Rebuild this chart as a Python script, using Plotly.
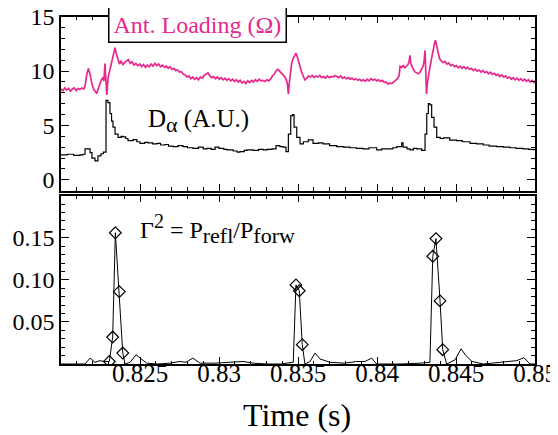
import plotly.graph_objects as go
from plotly.subplots import make_subplots

# antenna loading (ohm)
ant_time = [
    0.82000, 0.82012, 0.82024, 0.82036, 0.82048, 0.82060, 0.82072, 0.82084, 0.82096, 0.82108,
    0.82120, 0.82132, 0.82144, 0.82152, 0.82162, 0.82173, 0.82184, 0.82196, 0.82208, 0.82218,
    0.82226, 0.82236, 0.82246, 0.82256, 0.82264, 0.82272, 0.82278, 0.82284, 0.82290, 0.82298,
    0.82306, 0.82316, 0.82326, 0.82335, 0.82342, 0.82350, 0.82360, 0.82370, 0.82380, 0.82392,
    0.82404, 0.82416, 0.82426, 0.82438, 0.82450, 0.82462, 0.82474, 0.82486, 0.82498, 0.82510,
    0.82522, 0.82534, 0.82546, 0.82558, 0.82570, 0.82582, 0.82594, 0.82606, 0.82618, 0.82630,
    0.82642, 0.82654, 0.82666, 0.82678, 0.82690, 0.82702, 0.82714, 0.82726, 0.82738, 0.82750,
    0.82762, 0.82774, 0.82786, 0.82798, 0.82810, 0.82822, 0.82834, 0.82846, 0.82858, 0.82870,
    0.82882, 0.82894, 0.82906, 0.82918, 0.82930, 0.82942, 0.82954, 0.82966, 0.82978, 0.82990,
    0.83002, 0.83014, 0.83026, 0.83038, 0.83050, 0.83062, 0.83074, 0.83086, 0.83098, 0.83110,
    0.83122, 0.83134, 0.83146, 0.83158, 0.83170, 0.83182, 0.83194, 0.83206, 0.83218, 0.83230,
    0.83242, 0.83254, 0.83266, 0.83278, 0.83290, 0.83302, 0.83314, 0.83326, 0.83338, 0.83350,
    0.83362, 0.83373, 0.83384, 0.83396, 0.83408, 0.83418, 0.83428, 0.83434, 0.83439, 0.83445,
    0.83452, 0.83460, 0.83468, 0.83476, 0.83487, 0.83496, 0.83505, 0.83514, 0.83523, 0.83534,
    0.83544, 0.83556, 0.83566, 0.83578, 0.83590, 0.83602, 0.83614, 0.83626, 0.83638, 0.83650,
    0.83662, 0.83674, 0.83686, 0.83698, 0.83710, 0.83722, 0.83734, 0.83746, 0.83758, 0.83770,
    0.83782, 0.83794, 0.83806, 0.83818, 0.83830, 0.83842, 0.83854, 0.83866, 0.83878, 0.83890,
    0.83902, 0.83914, 0.83926, 0.83938, 0.83950, 0.83962, 0.83974, 0.83986, 0.83998, 0.84010,
    0.84022, 0.84034, 0.84046, 0.84058, 0.84070, 0.84082, 0.84094, 0.84106, 0.84118, 0.84130,
    0.84140, 0.84146, 0.84156, 0.84166, 0.84176, 0.84186, 0.84194, 0.84202, 0.84209, 0.84214,
    0.84222, 0.84232, 0.84242, 0.84252, 0.84262, 0.84272, 0.84283, 0.84292, 0.84298, 0.84304,
    0.84309, 0.84313, 0.84318, 0.84324, 0.84332, 0.84342, 0.84352, 0.84362, 0.84370, 0.84378,
    0.84386, 0.84396, 0.84406, 0.84418, 0.84430, 0.84442, 0.84454, 0.84466, 0.84478, 0.84490,
    0.84502, 0.84514, 0.84526, 0.84538, 0.84550, 0.84562, 0.84574, 0.84586, 0.84598, 0.84610,
    0.84622, 0.84634, 0.84646, 0.84658, 0.84670, 0.84682, 0.84694, 0.84706, 0.84718, 0.84730,
    0.84742, 0.84754, 0.84766, 0.84778, 0.84790, 0.84802, 0.84814, 0.84826, 0.84838, 0.84850,
    0.84862, 0.84874, 0.84886, 0.84898, 0.84910, 0.84922, 0.84934, 0.84946, 0.84958, 0.84970,
    0.84982, 0.84994, 0.85000,
]
ant_ohm = [
    8.35, 8.20, 8.45, 8.25, 8.40, 8.15, 8.35, 8.45, 8.20, 8.40,
    8.30, 8.45, 8.35, 8.60, 9.60, 10.25, 9.70, 8.80, 8.30, 8.05,
    7.95, 8.40, 8.90, 9.20, 9.35, 9.10, 10.70, 9.20, 7.80, 9.40,
    9.90, 10.70, 11.30, 11.80, 12.15, 11.60, 11.00, 10.65, 10.90, 10.60,
    10.80, 10.95, 11.05, 10.70, 10.85, 10.55, 10.70, 10.50, 10.65, 10.40,
    10.60, 10.35, 10.55, 10.40, 10.65, 10.45, 10.70, 10.50, 10.65, 10.40,
    10.55, 10.35, 10.45, 10.25, 10.40, 10.15, 10.25, 10.05, 10.10, 9.90,
    9.95, 9.70, 9.65, 9.45, 9.55, 9.30, 9.45, 9.25, 9.40, 9.20,
    9.45, 9.35, 9.60, 9.70, 9.85, 9.55, 9.40, 9.50, 9.30, 9.45,
    9.25, 9.40, 9.20, 9.35, 9.15, 9.30, 9.10, 9.25, 9.05, 9.20,
    9.00, 9.15, 8.90, 9.05, 8.85, 9.10, 8.95, 9.15, 9.00, 9.20,
    9.05, 9.25, 9.10, 9.15, 9.05, 9.20, 9.10, 9.25, 9.55, 9.70,
    10.05, 10.15, 9.95, 9.80, 9.60, 9.45, 9.10, 8.70, 7.90, 8.90,
    10.00, 10.70, 11.10, 11.40, 11.65, 11.30, 10.80, 10.30, 9.90, 9.50,
    9.20, 9.35, 9.55, 9.45, 9.60, 9.40, 9.55, 9.45, 9.60, 9.40,
    9.50, 9.35, 9.55, 9.40, 9.50, 9.45, 9.60, 9.50, 9.40, 9.55,
    9.35, 9.45, 9.30, 9.40, 9.25, 9.35, 9.20, 9.30, 9.15, 9.25,
    9.10, 9.20, 9.05, 9.25, 9.10, 9.30, 9.15, 9.25, 9.10, 9.20,
    9.05, 9.15, 8.95, 9.00, 8.80, 8.90, 8.85, 9.00, 9.20, 9.30,
    9.60, 10.45, 10.35, 10.50, 10.30, 10.45, 10.55, 10.80, 11.45, 10.70,
    10.40, 10.10, 9.90, 9.80, 9.75, 9.90, 10.15, 10.45, 10.90, 11.90,
    9.80, 7.90, 8.80, 9.60, 10.10, 10.90, 11.80, 12.40, 12.85, 12.30,
    11.70, 11.15, 10.95, 10.80, 10.90, 10.65, 10.75, 10.50, 10.60, 10.40,
    10.50, 10.30, 10.45, 10.25, 10.40, 10.20, 10.35, 10.15, 10.25, 10.05,
    10.20, 10.00, 10.10, 9.90, 10.05, 9.85, 9.95, 9.75, 9.90, 9.70,
    9.80, 9.60, 9.70, 9.50, 9.65, 9.45, 9.55, 9.35, 9.45, 9.25,
    9.40, 9.20, 9.35, 9.15, 9.30, 9.10, 9.25, 9.05, 9.20, 9.00,
    9.15, 8.95, 9.10,
]

# D-alpha (arb. units), stepped signal
dalpha_time = [
    0.82000, 0.82040, 0.82080, 0.82120, 0.82139, 0.82152, 0.82184, 0.82196, 0.82215, 0.82234,
    0.82253, 0.82268, 0.82285, 0.82297, 0.82310, 0.82320, 0.82329, 0.82342, 0.82361, 0.82380,
    0.82392, 0.82410, 0.82424, 0.82456, 0.82480, 0.82500, 0.82530, 0.82551, 0.82580, 0.82608,
    0.82630, 0.82658, 0.82680, 0.82709, 0.82740, 0.82772, 0.82800, 0.82835, 0.82870, 0.82900,
    0.82924, 0.82950, 0.82975, 0.83000, 0.83030, 0.83051, 0.83090, 0.83115, 0.83133, 0.83160,
    0.83177, 0.83215, 0.83250, 0.83280, 0.83304, 0.83335, 0.83361, 0.83385, 0.83405, 0.83424,
    0.83439, 0.83454, 0.83466, 0.83475, 0.83492, 0.83513, 0.83534, 0.83565, 0.83595, 0.83630,
    0.83658, 0.83700, 0.83745, 0.83790, 0.83829, 0.83870, 0.83911, 0.83950, 0.83998, 0.84030,
    0.84061, 0.84100, 0.84125, 0.84156, 0.84165, 0.84190, 0.84209, 0.84230, 0.84251, 0.84283,
    0.84304, 0.84315, 0.84325, 0.84335, 0.84346, 0.84361, 0.84378, 0.84400, 0.84420, 0.84460,
    0.84504, 0.84540, 0.84589, 0.84630, 0.84673, 0.84710, 0.84758, 0.84800, 0.84842, 0.84880,
    0.84924, 0.84960, 0.84987, 0.85000,
]
dalpha_au = [
    2.30, 2.35, 2.25, 2.30, 2.35, 2.85, 2.50, 2.00, 1.75, 2.20,
    2.40, 2.55, 7.30, 7.10, 6.10, 5.40, 4.85, 4.20, 3.90, 4.00,
    3.95, 3.80, 3.60, 3.70, 3.50, 3.35, 3.45, 3.40, 3.30, 3.35,
    3.20, 3.25, 3.10, 3.05, 3.15, 3.05, 2.95, 2.90, 3.00, 2.85,
    2.90, 2.80, 3.00, 2.90, 2.80, 2.75, 2.65, 2.55, 2.60, 2.70,
    2.75, 2.70, 2.80, 2.75, 2.80, 2.85, 3.15, 3.05, 3.00, 2.60,
    4.20, 5.90, 6.00, 4.85, 3.90, 3.30, 3.50, 3.68, 3.35, 3.40,
    3.30, 3.15, 3.05, 3.00, 2.95, 2.90, 2.85, 2.95, 2.75, 2.85,
    2.85, 2.95, 3.05, 3.40, 3.00, 2.85, 2.75, 2.90, 2.85, 2.70,
    4.20, 6.10, 7.00, 6.90, 5.75, 4.85, 3.90, 3.80, 3.85, 3.65,
    3.60, 3.50, 3.35, 3.30, 3.20, 3.10, 3.05, 3.00, 2.95, 2.90,
    2.85, 2.80, 2.77, 2.80,
]

# reflection coefficient squared
gamma_time = [
    0.82000, 0.82152, 0.82184, 0.82215, 0.82247, 0.82272, 0.82306, 0.82327, 0.82344, 0.82369,
    0.82391, 0.82405, 0.82437, 0.82475, 0.82506, 0.82542, 0.82608, 0.82690, 0.82753, 0.82791,
    0.82834, 0.82880, 0.82975, 0.83089, 0.83152, 0.83215, 0.83304, 0.83386, 0.83449, 0.83470,
    0.83487, 0.83508, 0.83527, 0.83544, 0.83576, 0.83608, 0.83639, 0.83703, 0.83797, 0.83872,
    0.83924, 0.83966, 0.83998, 0.84146, 0.84272, 0.84335, 0.84353, 0.84373, 0.84399, 0.84416,
    0.84441, 0.84494, 0.84532, 0.84563, 0.84601, 0.84673, 0.84778, 0.84842, 0.84885, 0.84930,
    0.84968, 0.85000,
]
gamma_sq = [
    0.000, 0.000, 0.007, 0.002, 0.004, 0.003, 0.003, 0.032, 0.156, 0.086,
    0.013, 0.000, 0.002, 0.011, 0.006, 0.001, 0.000, 0.001, 0.003, 0.002,
    0.007, 0.001, 0.001, 0.002, 0.003, 0.001, 0.000, 0.000, 0.001, 0.002,
    0.094, 0.087, 0.023, 0.000, 0.003, 0.013, 0.006, 0.002, 0.001, 0.003,
    0.003, 0.007, 0.000, 0.000, 0.001, 0.002, 0.128, 0.149, 0.075, 0.017,
    0.000, 0.005, 0.018, 0.010, 0.003, 0.000, 0.002, 0.003, 0.004, 0.0075,
    0.000, 0.000,
]
# samples marked with diamonds
marked_time = [0.82306, 0.82327, 0.82344, 0.82369, 0.82391,
               0.83487, 0.83508, 0.83527,
               0.84353, 0.84373, 0.84399, 0.84416]
marked_gamma = [0.003, 0.032, 0.156, 0.086, 0.013,
                0.094, 0.087, 0.023,
                0.128, 0.149, 0.075, 0.017]

PINK = "#e8278d"
FONT = "Liberation Serif, Times New Roman, DejaVu Serif, serif"
# the page body has an 8px margin, so the figure is 8px smaller each way
OFF = 8
W, H = 558 - OFF, 435 - OFF
PLOT_L, PLOT_R = 61, 535


def py(y):
    # page pixel row -> paper fraction
    return 1 - (y - OFF) / H


def px(x):
    return (x - PLOT_L) / (PLOT_R - PLOT_L)


fig = make_subplots(rows=2, cols=1, shared_xaxes=True)

fig.add_trace(go.Scatter(x=ant_time, y=ant_ohm, mode="lines",
                         line=dict(color=PINK, width=1.7)), row=1, col=1)
fig.add_trace(go.Scatter(x=dalpha_time, y=dalpha_au, mode="lines",
                         line=dict(color="black", width=1.2, shape="hv")), row=1, col=1)
fig.add_trace(go.Scatter(x=gamma_time, y=gamma_sq, mode="lines",
                         line=dict(color="black", width=1)), row=2, col=1)
fig.add_trace(go.Scatter(x=marked_time, y=marked_gamma, mode="markers",
                         marker=dict(symbol="diamond-open", size=9, color="black",
                                     line=dict(width=1.2))), row=2, col=1)

axis_common = dict(showline=True, linecolor="black", linewidth=1.5, mirror="ticks",
                   ticks="inside", tickcolor="black", tickwidth=1, showgrid=False,
                   zeroline=False, automargin=False, ticklabeloverflow="allow",
                   tickfont=dict(family=FONT, size=24, color="black"))

fig.update_xaxes(axis_common, range=[0.82, 0.85], tickmode="linear", tick0=0.82,
                 dtick=0.005, ticklen=7, ticklabelstandoff=-14,
                 tickfont=dict(family=FONT, size=25, color="black"),
                 minor=dict(ticks="inside", dtick=0.001, ticklen=3.5, tickcolor="black"),
                 labelalias={"0.82": " "})
fig.update_xaxes(showticklabels=False, row=1, col=1)

fig.update_yaxes(axis_common, range=[-1, 15], tickmode="linear", tick0=0, dtick=5,
                 ticklen=8, minor=dict(ticks="inside", dtick=1, ticklen=4, tickcolor="black"),
                 row=1, col=1)
fig.update_yaxes(axis_common, range=[0, 0.2], tickmode="linear", tick0=0, dtick=0.05,
                 tickformat=".2f", ticklen=8, labelalias={"0.00": " ", "0.20": " "},
                 minor=dict(ticks="inside", dtick=0.01, ticklen=4, tickcolor="black"),
                 row=2, col=1)

fig.update_layout(
    width=W, height=H,
    margin=dict(l=PLOT_L - OFF, r=W - (PLOT_R - OFF), t=0, b=0),
    paper_bgcolor="white", plot_bgcolor="white",
    showlegend=False,
    xaxis=dict(domain=[0, 1]),
    yaxis=dict(domain=[py(190.7), py(16.7)]),
    yaxis2=dict(domain=[py(364), py(195.7)]),
    font=dict(family=FONT, color="black"),
)

SUB = '<sub><span style="font-size:22px">{}</span></sub>'

fig.add_annotation(x=px(197.4), y=py(24.5), xref="paper", yref="paper",
                   xanchor="center", yanchor="middle",
                   text="Ant. Loading (Ω)", showarrow=False,
                   font=dict(family=FONT, size=24, color=PINK),
                   bgcolor="white", bordercolor="black", borderwidth=1.5, borderpad=4)
fig.add_annotation(x=px(146), y=py(121), xref="paper", yref="paper",
                   xanchor="left", yanchor="middle",
                   text="D" + SUB.format("α") + " (A.U.)", showarrow=False,
                   font=dict(family=FONT, size=25, color="black"))
fig.add_annotation(x=px(138), y=py(229), xref="paper", yref="paper",
                   xanchor="left", yanchor="middle",
                   text='Γ<sup><span style="font-size:20px">2</span></sup> = P'
                        + SUB.format("refl") + "/P" + SUB.format("forw"),
                   showarrow=False,
                   font=dict(family=FONT, size=24, color="black"))
fig.add_annotation(x=px(297), y=py(415), xref="paper", yref="paper",
                   xanchor="center", yanchor="middle",
                   text="Time (s)", showarrow=False,
                   font=dict(family=FONT, size=32, color="black"))

fig.write_html("out.html")
